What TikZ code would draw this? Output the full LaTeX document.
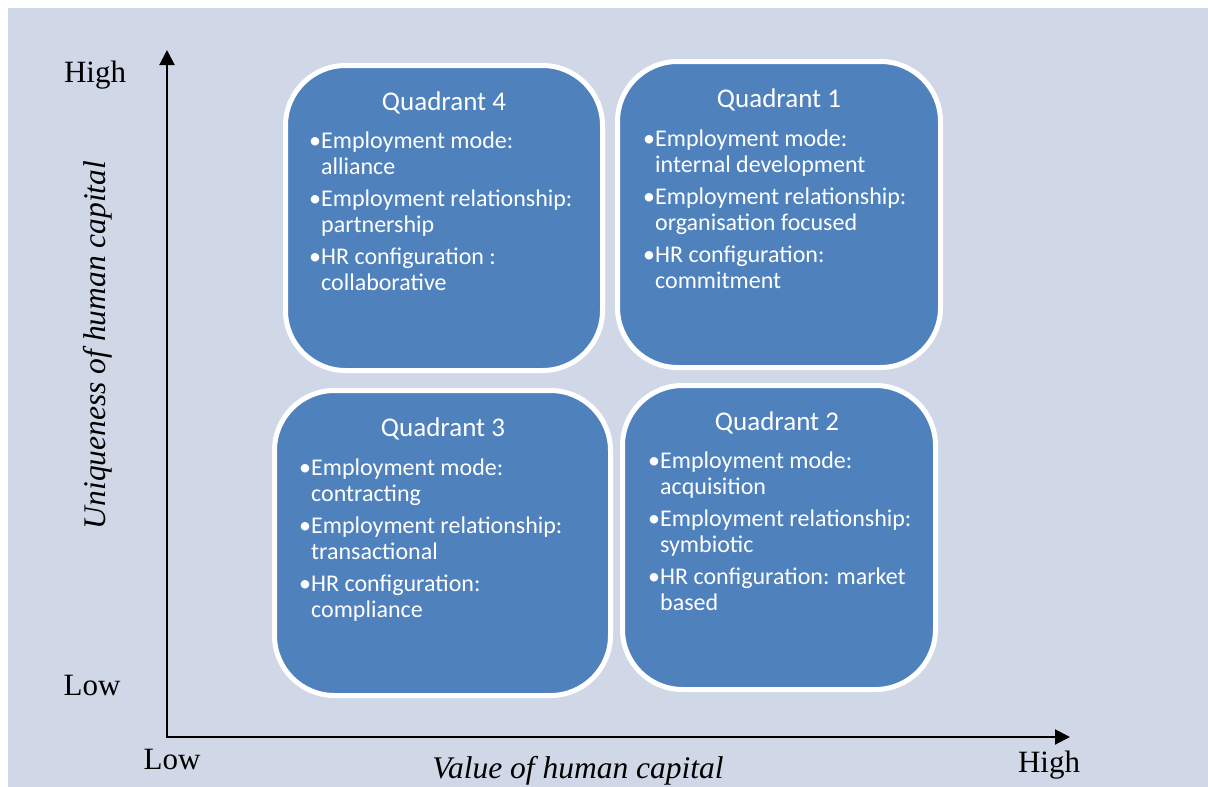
\documentclass[tikz,border=0pt]{standalone}
\usepackage{fontspec}
\setmainfont{Liberation Serif}
\newfontfamily\boxfont{Carlito}
\usepackage{xcolor}
\usepackage{tikz}
\usetikzlibrary{arrows.meta}

\definecolor{quadblue}{RGB}{79,129,189}
\definecolor{chartbg}{RGB}{208,216,232}

\tikzset{
  quad/.style={draw=white, line width=5pt, fill=quadblue, rounded corners=60pt, inner sep=0pt},
  quadtitle/.style={anchor=base, text=white, inner sep=0pt, font=\boxfont\fontsize{27}{30}\selectfont},
  quadlist/.style={anchor=base west, text=white, inner sep=0pt, font=\boxfont\fontsize{24}{26.5}\selectfont},
  axislabel/.style={anchor=base, inner sep=0pt, font=\fontsize{31}{36}\selectfont},
  axis/.style={line width=2pt, {Triangle[length=15pt,width=15pt]}-{Triangle[length=15pt,width=15pt]}}
}

\begin{document}
\begin{tikzpicture}[x=1pt,y=-1pt]
        %% Background
        \useasboundingbox (0,0) rectangle (1208,787);
        \fill[white] (0,0) rectangle (1208,787);
        \fill[chartbg] (8,8) rectangle (1208,787);

        %% Quadrants
        \node[quad, minimum width=317pt, minimum height=305pt] (q4) at (444,218) {};
        \node[quad, minimum width=323pt, minimum height=306pt] (q1) at (779,214.5) {};
        \node[quad, minimum width=336pt, minimum height=305pt] (q3) at (442.5,543) {};
        \node[quad, minimum width=313pt, minimum height=304pt] (q2) at (779,537.5) {};

        % Titles
        \node[quadtitle] (q4title) at (444,110) {Quadrant 4};
        \node[quadtitle] (q1title) at (779,107) {Quadrant 1};
        \node[quadtitle] (q3title) at (443,436) {Quadrant 3};
        \node[quadtitle] (q2title) at (777,430) {Quadrant 2};

        % Bullet lists
        \node[quadlist] (q4list) at (309,148) {\begin{tabular}[t]{@{}l@{}l@{}}
                •&Employment mode:\\ &alliance\\[5pt]
                •&Employment relationship:\\ &partnership\\[5pt]
                •&HR configuration :\\ &collaborative
                \end{tabular}};
        \node[quadlist] (q1list) at (643,146) {\begin{tabular}[t]{@{}l@{}l@{}}
                •&Employment mode:\\ &internal development\\[5pt]
                •&Employment relationship:\\ &organisation focused\\[5pt]
                •&HR configuration:\\ &commitment
                \end{tabular}};
        \node[quadlist] (q3list) at (299,475) {\begin{tabular}[t]{@{}l@{}l@{}}
                •&Employment mode:\\ &contracting\\[5pt]
                •&Employment relationship:\\ &transactional\\[5pt]
                •&HR configuration:\\ &compliance
                \end{tabular}};
        \node[quadlist] (q2list) at (648,468) {\begin{tabular}[t]{@{}l@{}l@{}}
                •&Employment mode:\\ &acquisition\\[5pt]
                •&Employment relationship:\\ &symbiotic\\[5pt]
                •&HR configuration: market\\ &based
                \end{tabular}};

        % Axes
        \coordinate (origin) at (167,737);
        \coordinate (ytip) at (167,50);
        \coordinate (xtip) at (1070,737);
        \draw[axis] (ytip) -- (origin) -- (xtip);

        % Axis labels
        \node[axislabel] (yhigh) at (95,82) {High};
        \node[axislabel] (ylow) at (92,695) {Low};
        \node[axislabel] (xlow) at (172,769) {Low};
        \node[axislabel] (xhigh) at (1049,772) {High};
        \node[axislabel, font=\fontsize{31.5}{36}\selectfont\itshape] (xtitle) at (578,778) {Value of human capital};
        \node[axislabel, font=\fontsize{31.5}{36}\selectfont\itshape, rotate=90] (ytitle) at (105,345) {Uniqueness of human capital};
\end{tikzpicture}
\end{document}
